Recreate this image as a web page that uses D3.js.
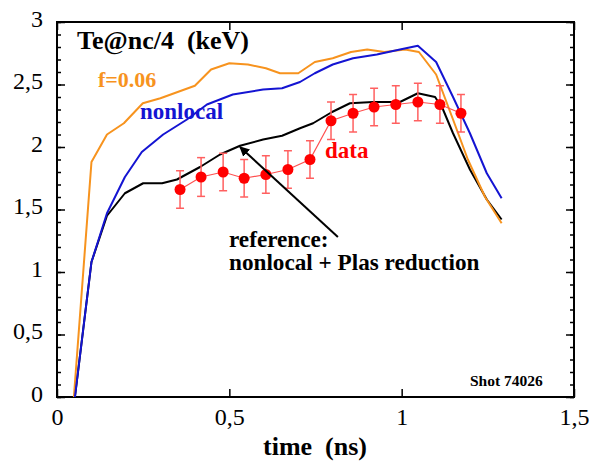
<!DOCTYPE html>
<html>
<head>
<meta charset="utf-8">
<script src="https://cdn.jsdelivr.net/npm/d3@7"></script>
<style>
  body { margin: 0; background: #fff; }
  svg text { font-family: "Liberation Serif", "Times New Roman", serif; white-space: pre; }
</style>
</head>
<body>
<svg id="chart" width="589" height="462"></svg>
<script>
// curves: [time (ns), Te (keV)]
const f006 = [
  [0.049, 0], [0.10, 1.88], [0.145, 2.10], [0.194, 2.19], [0.249, 2.35], [0.30, 2.39],
  [0.40, 2.49], [0.447, 2.62], [0.50, 2.67], [0.554, 2.66], [0.606, 2.63], [0.647, 2.59],
  [0.70, 2.59], [0.748, 2.68], [0.80, 2.71], [0.853, 2.76], [0.90, 2.78], [0.95, 2.76],
  [1.01, 2.78], [1.05, 2.76], [1.10, 2.58], [1.149, 2.22], [1.192, 1.90], [1.242, 1.60],
  [1.29, 1.39]
];
const nonlocal = [
  [0.052, 0], [0.10, 1.08], [0.145, 1.47], [0.197, 1.76], [0.246, 1.96], [0.308, 2.10],
  [0.377, 2.22], [0.435, 2.34], [0.51, 2.42], [0.598, 2.46], [0.653, 2.47], [0.705, 2.52],
  [0.748, 2.59], [0.80, 2.66], [0.859, 2.71], [0.928, 2.74], [0.995, 2.78], [1.047, 2.81],
  [1.10, 2.68], [1.149, 2.40], [1.198, 2.11], [1.247, 1.79], [1.29, 1.59]
];
const reference = [
  [0.052, 0], [0.10, 1.08], [0.145, 1.45], [0.197, 1.63], [0.25, 1.71], [0.305, 1.71],
  [0.348, 1.74], [0.415, 1.84], [0.473, 1.94], [0.531, 2.01], [0.598, 2.06], [0.653, 2.09],
  [0.705, 2.15], [0.743, 2.19], [0.798, 2.28], [0.85, 2.35], [0.917, 2.36], [0.995, 2.36],
  [1.047, 2.43], [1.097, 2.40], [1.12, 2.30], [1.149, 2.11], [1.198, 1.82], [1.247, 1.58],
  [1.29, 1.42]
];
// measured points
const dataT   = [0.357, 0.418, 0.482, 0.543, 0.606, 0.670, 0.734, 0.795, 0.859, 0.920, 0.983, 1.047, 1.111, 1.172];
const dataTe  = [1.66, 1.76, 1.80, 1.75, 1.78, 1.82, 1.90, 2.21, 2.27, 2.32, 2.34, 2.36, 2.34, 2.27];
const dataErr = [0.15, 0.155, 0.15, 0.15, 0.15, 0.15, 0.15, 0.15, 0.15, 0.15, 0.15, 0.15, 0.15, 0.15];

const xMajor = [0, 0.5, 1, 1.5];
const yMajor = [0, 0.5, 1, 1.5, 2, 2.5, 3];
const yMinor = d3.range(0, 31).map(i => i / 10);

const svg = d3.select("#chart");
const plotL = 57, plotR = 574, plotT = 22, plotB = 397;

const x = d3.scaleLinear().domain([0, 1.5]).range([plotL, plotR]);
const y = d3.scaleLinear().domain([0, 3]).range([plotB, plotT]);
const fmt = d => String(d).replace(".", ",");

// frame
svg.append("rect")
  .attr("x", plotL).attr("y", plotT)
  .attr("width", plotR - plotL).attr("height", plotB - plotT)
  .attr("fill", "none").attr("stroke", "#000").attr("stroke-width", 2);

function styleAxis(g) {
  g.select(".domain").remove();
  g.selectAll(".tick line").attr("stroke", "#000").attr("stroke-width", 1.5);
  g.selectAll("text").attr("font-size", 24).attr("fill", "#000")
    .style("font-family", "'Liberation Serif', serif");
}

// y axes
svg.append("g").attr("transform", `translate(${plotL},0)`)
  .call(d3.axisLeft(y).tickValues(yMajor).tickFormat(fmt).tickSizeInner(-8).tickSizeOuter(0).tickPadding(14))
  .call(styleAxis)
  .selectAll("text").attr("dy", "0.18em");
svg.append("g").attr("transform", `translate(${plotL},0)`)
  .call(d3.axisLeft(y).tickValues(yMinor).tickFormat("").tickSizeInner(-4).tickSizeOuter(0))
  .call(styleAxis);
svg.append("g").attr("transform", `translate(${plotR},0)`)
  .call(d3.axisRight(y).tickValues(yMajor).tickFormat("").tickSizeInner(-8).tickSizeOuter(0))
  .call(styleAxis);
svg.append("g").attr("transform", `translate(${plotR},0)`)
  .call(d3.axisRight(y).tickValues(yMinor).tickFormat("").tickSizeInner(-4).tickSizeOuter(0))
  .call(styleAxis);

// x axes
svg.append("g").attr("transform", `translate(0,${plotB})`)
  .call(d3.axisBottom(x).tickValues(xMajor).tickFormat(fmt).tickSizeInner(-8).tickSizeOuter(0).tickPadding(11))
  .call(styleAxis);
svg.append("g").attr("transform", `translate(0,${plotT})`)
  .call(d3.axisTop(x).tickValues(xMajor).tickFormat("").tickSizeInner(-8).tickSizeOuter(0))
  .call(styleAxis);

// curves
const line = d3.line().x(d => x(d[0])).y(d => y(d[1]));
[[reference, "#000000"], [f006, "#f7931e"], [nonlocal, "#1414d2"]].forEach(([pts, c]) => {
  svg.append("path").datum(pts)
    .attr("d", line)
    .attr("fill", "none")
    .attr("stroke", c)
    .attr("stroke-width", 2)
    .attr("stroke-linejoin", "round");
});

// measured data
const meas = dataT.map((t, i) => ({ t, v: dataTe[i], e: dataErr[i] }));
svg.append("path").datum(meas)
  .attr("d", d3.line().x(d => x(d.t)).y(d => y(d.v)))
  .attr("fill", "none").attr("stroke", "#ff5050").attr("stroke-width", 1.2);

const eb = svg.append("g").attr("stroke", "#ff6060").attr("stroke-width", 1.5);
meas.forEach(d => {
  eb.append("line").attr("x1", x(d.t)).attr("x2", x(d.t))
    .attr("y1", y(d.v - d.e)).attr("y2", y(d.v + d.e));
  [d.v - d.e, d.v + d.e].forEach(v => {
    eb.append("line").attr("x1", x(d.t) - 4).attr("x2", x(d.t) + 4)
      .attr("y1", y(v)).attr("y2", y(v));
  });
});
svg.append("g").selectAll("circle").data(meas).join("circle")
  .attr("cx", d => x(d.t)).attr("cy", d => y(d.v)).attr("r", 5.5)
  .attr("fill", "#ff0000");

// arrow
svg.append("defs").append("marker")
  .attr("id", "head").attr("viewBox", "0 0 10 10")
  .attr("refX", 9).attr("refY", 5)
  .attr("markerWidth", 5).attr("markerHeight", 5)
  .attr("orient", "auto")
  .append("path").attr("d", "M0,0 L10,5 L0,10 z").attr("fill", "#000");
svg.append("line")
  .attr("x1", x(0.815)).attr("y1", y(1.28))
  .attr("x2", x(0.531)).attr("y2", y(2.0))
  .attr("stroke", "#000").attr("stroke-width", 2)
  .attr("marker-end", "url(#head)");

// labels
function label(txt, px, py, size, color, anchor) {
  svg.append("text").attr("x", px).attr("y", py)
    .attr("font-size", size).attr("font-weight", "bold")
    .attr("fill", color).attr("text-anchor", anchor || "start")
    .text(txt);
}
label("Te@nc/4  (keV)", 77, 49, 26, "#000");
label("f=0.06", 98, 87, 22, "#f7931e");
label("nonlocal", 140, 119, 23, "#1414d2");
label("data", 325, 158, 23, "#ff0000");
label("reference:", 229, 247, 23.2, "#000");
label("nonlocal + Plas reduction", 229, 270, 23.2, "#000");
label("Shot 74026", 470, 386, 15.5, "#000");
label("time  (ns)", 315, 455, 26, "#000", "middle");
</script>
</body>
</html>
